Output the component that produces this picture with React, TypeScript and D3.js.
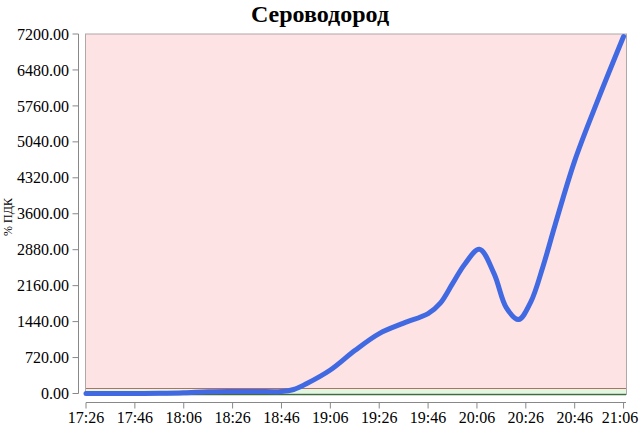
import React from "react";
import * as d3 from "d3";

const title = "Сероводород";
const yLabel = "% ПДК";
const startTime = "17:26";
// minutes after 17:26 and value in % ПДК
const minutes = [0, 10, 20, 30, 40, 50, 60, 70, 80, 85, 90, 100, 110, 120, 130, 140, 145, 150, 155, 161, 167, 172, 177, 182, 187, 192, 200, 210, 220];
const values = [0, 0, 0, 5, 15, 35, 40, 40, 40, 80, 190, 470, 860, 1200, 1410, 1600, 1810, 2200, 2590, 2890, 2400, 1720, 1480, 1830, 2540, 3380, 4660, 5940, 7150];
const yTicks = [0, 720, 1440, 2160, 2880, 3600, 4320, 5040, 5760, 6480, 7200];
const xTickLabels = ["17:26", "17:46", "18:06", "18:26", "18:46", "19:06", "19:26", "19:46", "20:06", "20:26", "20:46", "21:06"];
const threshold = 100;

const W = 640;
const H = 427;

function toDate(hhmm: string, addMin = 0) {
  const [h, m] = hhmm.split(":").map(Number);
  return new Date(2024, 0, 1, h, m + addMin);
}

export default function App() {
  const x0 = toDate(startTime);
  const x = d3.scaleTime().domain([x0, toDate(startTime, 221.6)]).range([86, 626]);
  const y = d3.scaleLinear().domain([0, 7200]).range([393.5, 34]);

  const data = minutes.map((m, i) => ({ t: toDate(startTime, m), v: values[i] }));
  const line = d3
    .line<{ t: Date; v: number }>()
    .x((d) => x(d.t))
    .y((d) => y(d.v))
    .curve(d3.curveCatmullRom.alpha(0.5));

  const left = x.range()[0];
  const right = x.range()[1];
  const axisX = 78.5;
  const axisY = 402.5;

  return (
    <svg width={W} height={H} style={{ position: "absolute", left: 0, top: 0, background: "#fff" }}>
      <text x={320} y={22} textAnchor="middle" fontFamily="Liberation Serif" fontWeight="bold" fontSize={24} fill="#000">
        {title}
      </text>
      {/* plot background */}
      <rect x={left} y={y(7200)} width={right - left} height={y(threshold) - y(7200)} fill="#fde3e4" />
      <rect x={left} y={y(threshold)} width={right - left} height={y(0) - y(threshold)} fill="#e2f7df" />
      <rect x={left - 0.5} y={y(7200)} width={right - left + 1} height={y(0) - y(7200) + 1} fill="none" stroke="#b0a8a8" strokeWidth={1} />
      <line x1={left} x2={right} y1={y(threshold)} y2={y(threshold)} stroke="#b07068" strokeWidth={1.2} />
      <line x1={left} x2={right} y1={y(0) + 1} y2={y(0) + 1} stroke="#3f6b3f" strokeWidth={1.5} />
      {/* data line */}
      <path d={line(data) || ""} fill="none" stroke="#4169e1" strokeWidth={5} strokeLinecap="round" strokeLinejoin="round" />
      {/* y axis */}
      <line x1={axisX} x2={axisX} y1={y(7200)} y2={y(0)} stroke="#888" strokeWidth={1} />
      {yTicks.map((t) => (
        <g key={t}>
          <line x1={axisX - 6} x2={axisX} y1={y(t)} y2={y(t)} stroke="#888" />
          <text x={69} y={y(t)} dy="0.35em" textAnchor="end" fontFamily="Liberation Serif" fontSize={16} fill="#000">
            {t.toFixed(2)}
          </text>
        </g>
      ))}
      <text transform={`translate(12,217) rotate(-90)`} textAnchor="middle" fontFamily="Liberation Serif" fontSize={12} fill="#000">
        {yLabel}
      </text>
      {/* x axis */}
      <line x1={left} x2={right} y1={axisY} y2={axisY} stroke="#888" />
      {xTickLabels.map((lab, i) => {
        const px = x(toDate(startTime, i * 20));
        return (
          <g key={lab}>
            <line x1={px} x2={px} y1={axisY} y2={axisY + 6} stroke="#888" />
            <text x={Math.min(px, 620)} y={axisY + 20} textAnchor="middle" fontFamily="Liberation Serif" fontSize={16} fill="#000">
              {lab}
            </text>
          </g>
        );
      })}
    </svg>
  );
}
